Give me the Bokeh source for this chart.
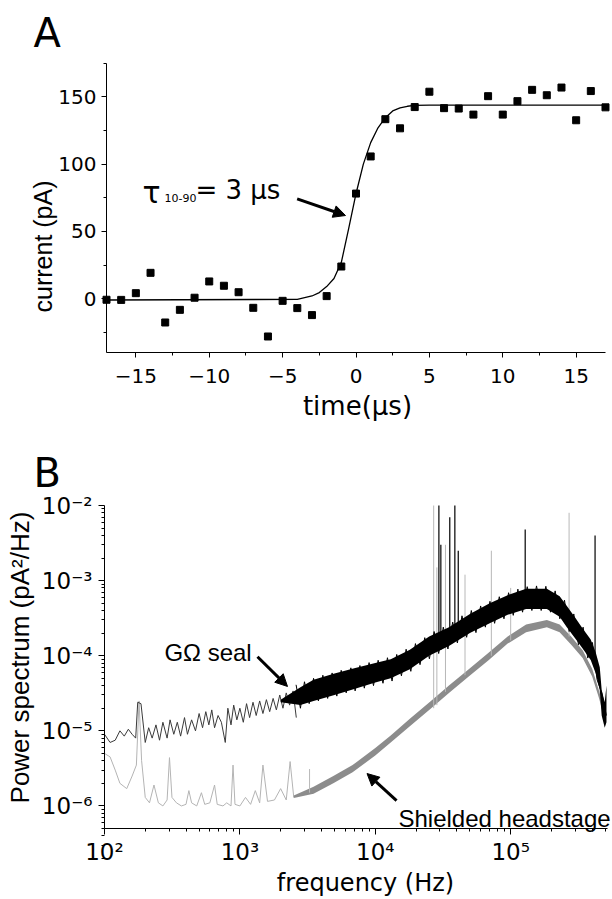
import math
from bokeh.plotting import figure
from bokeh.layouts import column
from bokeh.models import (Range1d, FixedTicker, CustomJSTickFormatter, Label,
                          Arrow, NormalHead)
from bokeh.embed import file_html
from bokeh.resources import INLINE

FONT = "Liberation Sans"
WIDE = "DejaVu Sans"

# ---------------- Panel A data ----------------
time_us = list(range(-17, 18))
current_pA = [-0.8, -0.9, 4.1, 19.2, -17.7, -8.3, 0.7, 12.8, 9.6, 4.8, -6.8, -28.1,
              -1.6, -7.0, -12.2, 1.9, 23.9, 78.1, 105.7, 133.4, 126.6, 142.4, 153.8,
              141.6, 141.3, 136.8, 150.5, 136.8, 146.8, 155.2, 151.2, 156.9, 132.6,
              154.3, 142.2]
fit_t = [-17, -4, -3, -2.5, -2, -1.5, -1, -0.5, 0, 0.5, 1, 1.5, 2, 2.5, 3, 3.5, 4, 5, 17]
fit_i = [-1, -0.5, 2, 4.5, 9, 15, 27, 52, 78, 100, 116, 127, 134.5, 139.5, 141.8, 143,
         143.6, 143.8, 143.8]
a_xticks = [-15, -10, -5, 0, 5, 10, 15]
a_xminor = [-12.5, -7.5, -2.5, 2.5, 7.5, 12.5]
a_yticks = [0, 50, 100, 150]
a_yminor = [-25, 25, 75, 125, 175]

# ---------------- Panel B data ----------------
seal_low_f = [100, 110, 120, 130, 140, 150, 160, 170, 176, 186, 200, 212, 225, 240, 255,
              270, 290, 305, 325, 345, 365, 390, 410, 440, 470, 500, 530, 560, 590, 620,
              650, 690, 730, 780, 815, 860, 900, 950, 1000, 1060, 1120, 1180, 1250, 1320,
              1400, 1480, 1570, 1660, 1760, 1860, 1970, 2080, 2200, 2330, 2470, 2610]
seal_low_p = [9e-6, 7e-6, 7.5e-6, 1.0e-5, 8.5e-6, 1.05e-5, 9e-6, 8e-6, 2.4e-5, 2.3e-5,
              7e-6, 1.1e-5, 8e-6, 1.2e-5, 7.5e-6, 1.3e-5, 8e-6, 1.4e-5, 9e-6, 1.3e-5,
              8.5e-6, 1.5e-5, 9e-6, 1.4e-5, 1.0e-5, 1.7e-5, 1.1e-5, 1.8e-5, 1.2e-5, 1.9e-5,
              1.1e-5, 1.6e-5, 1.3e-5, 7e-6, 2.0e-5, 1.2e-5, 2.2e-5, 1.4e-5, 2.0e-5, 1.3e-5,
              2.3e-5, 1.5e-5, 2.4e-5, 1.6e-5, 2.5e-5, 1.7e-5, 2.6e-5, 1.8e-5, 2.7e-5,
              1.9e-5, 3.0e-5, 2.0e-5, 3.2e-5, 2.2e-5, 3.4e-5, 1.5e-5]
seal_zig_f = [2600, 2800, 3000, 3250, 3500, 3800, 4100, 4450, 4800, 5200, 5600, 6100, 6600,
              7100, 7700, 8300, 9000, 9700, 10500, 11400, 12300, 13300, 14400, 15600,
              16900, 18300, 19800, 21400, 23200, 25100, 27200, 29400, 31800, 34400, 37300,
              40400, 43700, 47300, 51200, 55400, 60000, 65000, 70300, 76100, 82400, 89200,
              96500, 104500, 113000, 122400, 132500, 143400, 155200, 168000, 181900,
              196900, 213100, 230700, 249700, 270300, 292600, 316700, 342800, 371000,
              401600, 434700, 470500, 509300]
seal_zig_p = [4.1e-5, 2.0e-5, 4.5e-5, 2.3e-5, 5.0e-5, 2.5e-5, 5.5e-5, 2.7e-5, 5.9e-5,
              2.9e-5, 6.4e-5, 3.2e-5, 6.9e-5, 3.4e-5, 7.4e-5, 3.7e-5, 8.1e-5, 4.0e-5,
              8.7e-5, 4.3e-5, 9.4e-5, 4.6e-5, 1.04e-4, 5.4e-5, 1.22e-4, 6.2e-5, 1.45e-4,
              7.6e-5, 1.74e-4, 9.1e-5, 2.1e-4, 1.07e-4, 2.4e-4, 1.23e-4, 2.8e-4, 1.48e-4,
              3.4e-4, 1.76e-4, 4.0e-4, 2.03e-4, 4.6e-4, 2.4e-4, 5.3e-4, 2.7e-4, 6.1e-4,
              3.1e-4, 6.9e-4, 3.45e-4, 7.7e-4, 3.8e-4, 8.3e-4, 4.0e-4, 8.5e-4, 4.0e-4,
              8.4e-4, 3.8e-4, 7.3e-4, 3.1e-4, 5.5e-4, 2.1e-4, 3.6e-4, 1.4e-4, 2.4e-4,
              9.3e-5, 1.5e-4, 4.8e-5, 3.2e-5, 1.6e-5]
seal_band_f = [2000, 2800, 3500, 5000, 7000, 10000, 13000, 18000, 25000, 35000, 50000,
               70000, 95000, 130000, 185000, 230000, 260000, 300000, 340000, 390000,
               425000, 455000, 470000, 495000, 510000]
seal_band_lo = [2.4e-5, 2.2e-5, 2.5e-5, 3.0e-5, 3.6e-5, 4.4e-5, 5.0e-5, 6.6e-5, 1.0e-4,
                1.35e-4, 2.0e-4, 2.7e-4, 3.5e-4, 4.2e-4, 4.2e-4, 3.3e-4, 2.4e-4, 1.7e-4,
                1.25e-4, 8.8e-5, 5.8e-5, 3.5e-5, 1.6e-5, 1.1e-5, 1.3e-5]
seal_band_hi = [2.6e-5, 3.8e-5, 4.8e-5, 5.8e-5, 6.8e-5, 8.0e-5, 9.0e-5, 1.2e-4, 1.8e-4,
                2.4e-4, 3.6e-4, 5.0e-4, 6.4e-4, 7.8e-4, 7.8e-4, 6.2e-4, 4.6e-4, 3.2e-4,
                2.3e-4, 1.65e-4, 1.1e-4, 7e-5, 3.5e-5, 2.4e-5, 4.0e-5]
seal_spike_f = [29500, 30500, 35500, 38700, 41000, 128000, 420000]
seal_spike_base = [1.2e-4, 1.2e-4, 1.8e-4, 2.0e-4, 2.1e-4, 6e-4, 1e-4]
seal_spike_top = [1.0e-2, 3e-3, 7e-3, 1.0e-2, 2.5e-3, 4.8e-3, 4e-3]

shield_low_f = [100, 110, 120, 130, 146, 160, 172, 180, 188, 200, 215, 232, 250, 270, 290,
                302, 315, 340, 370, 400, 420, 440, 480, 520, 550, 600, 650, 680, 750, 800,
                860, 890, 920, 1000, 1100, 1200, 1300, 1400, 1480, 1600, 1800, 2000, 2200,
                2350, 2500]
shield_low_p = [5e-6, 4.5e-6, 3e-6, 2e-6, 1.7e-6, 2.5e-6, 3.5e-6, 2.5e-5, 4e-6, 1.3e-6,
                1.1e-6, 1.9e-6, 1.1e-6, 1.0e-6, 1.2e-6, 4.4e-6, 1.3e-6, 1.1e-6, 1.0e-6,
                1.05e-6, 1.6e-6, 1.1e-6, 1.0e-6, 1.5e-6, 1.05e-6, 1.1e-6, 1.9e-6, 1.05e-6,
                1.0e-6, 1.1e-6, 1.0e-6, 3.5e-6, 1.05e-6, 1.0e-6, 1.3e-6, 1.05e-6, 1.6e-6,
                1.1e-6, 3.5e-6, 1.15e-6, 1.2e-6, 1.7e-6, 1.2e-6, 3.9e-6, 1.3e-6]
shield_band_f = [2500, 3500, 4900, 6800, 10000, 13000, 18000, 25500, 35000, 49000, 69000,
                 95000, 130000, 185000, 230000, 280000, 340000, 400000, 450000, 500000]
shield_band_lo = [1.28e-6, 1.45e-6, 2.0e-6, 2.8e-6, 4.7e-6, 7.0e-6, 1.15e-5, 1.95e-5,
                  3.2e-5, 5.3e-5, 8.8e-5, 1.45e-4, 2.05e-4, 2.4e-4, 2.05e-4, 1.4e-4,
                  9.3e-5, 5.3e-5, 2.7e-5, 1.3e-5]
shield_band_hi = [1.38e-6, 1.8e-6, 2.5e-6, 3.5e-6, 5.9e-6, 8.7e-6, 1.45e-5, 2.45e-5,
                  4.0e-5, 6.6e-5, 1.1e-4, 1.8e-4, 2.6e-4, 3.0e-4, 2.6e-4, 1.8e-4, 1.18e-4,
                  6.7e-5, 3.4e-5, 1.7e-5]
shield_spike_f = [3270, 27000, 28500, 33000, 46000, 72000, 100000, 270000]
shield_spike_base = [1.5e-6, 2e-5, 2.2e-5, 3.3e-5, 5.5e-5, 1e-4, 1.6e-4, 1.8e-4]
shield_spike_top = [3.1e-6, 1.0e-2, 1.5e-3, 3e-3, 1.2e-3, 2.5e-3, 8e-4, 8e-3]

b_xticks = [1e2, 1e3, 1e4, 1e5]
b_xminor = [m * d for d in (1e2, 1e3, 1e4, 1e5) for m in range(2, 10)]
b_yticks = [1e-6, 1e-5, 1e-4, 1e-3, 1e-2]
b_yminor = [m * d for d in (1e-7, 1e-6, 1e-5, 1e-4, 1e-3) for m in range(2, 10)]


def style_axes(p, tick_fs):
    for ax in (p.xaxis[0], p.yaxis[0]):
        ax.axis_line_color = "black"
        ax.axis_line_width = 1
        ax.major_tick_line_color = "black"
        ax.minor_tick_line_color = "black"
        ax.major_tick_in = 0
        ax.major_tick_out = 5
        ax.minor_tick_in = 0
        ax.minor_tick_out = 3
        ax.major_label_text_font = WIDE
        ax.major_label_text_font_size = tick_fs
        ax.major_label_text_color = "black"
    p.xgrid.visible = False
    p.ygrid.visible = False
    p.outline_line_color = None


def lab(p, x, y, text, size, angle=0, align="left", baseline="alphabetic", font=WIDE):
    p.add_layout(Label(x=x, y=y, text=text, text_font=font, text_font_size=size,
                       text_color="black", angle=angle, text_align=align,
                       text_baseline=baseline))


# ---------------- Figure A ----------------
pa = figure(width=612, height=430, x_range=Range1d(-24.223, 17.477),
            y_range=Range1d(-97.97, 221.6), output_backend="svg", toolbar_location=None,
            min_border_left=0, min_border_right=0, min_border_top=0, min_border_bottom=0)
style_axes(pa, "20px")
pa.xaxis.ticker = FixedTicker(ticks=a_xticks, minor_ticks=a_xminor)
pa.yaxis.ticker = FixedTicker(ticks=a_yticks, minor_ticks=a_yminor)
pa.xaxis.fixed_location = -40
pa.yaxis.fixed_location = -17
pa.xaxis.bounds = (-17, 17)
pa.yaxis.bounds = (-40, 175)
pa.xaxis.major_label_standoff = 12
pa.yaxis.major_label_standoff = 5

pa.line(fit_t, fit_i, line_color="black", line_width=1.3)
pa.scatter(time_us, current_pA, marker="square", size=7, fill_color="black",
           line_color="black")

lab(pa, -21.97, 197.8, "A", "40px")
lab(pa, -21.36, 38.8, "current (pA)", "25px", angle=math.pi / 2, align="center",
    baseline="middle", font=FONT)
lab(pa, 0.1, -79.4, "time(\u03bcs)", "26px", align="center", baseline="middle")
lab(pa, -14.55, 79.1, "\u03c4", "30px")
lab(pa, -13.05, 75.0, "10-90", "11px")
lab(pa, -10.94, 80.4, "= 3 \u03bcs", "26px")
pa.add_layout(Arrow(end=NormalHead(size=12, fill_color="black", line_color="black"),
                    x_start=-4.01, y_start=74.2, x_end=-0.715, y_end=61.8,
                    line_width=3, line_color="black"))

# ---------------- Figure B ----------------
pb = figure(width=612, height=469, x_axis_type="log", y_axis_type="log",
            x_range=Range1d(17.06, 5.65e5), y_range=Range1d(5.68e-8, 0.0997),
            output_backend="svg", toolbar_location=None,
            min_border_left=0, min_border_right=0, min_border_top=0, min_border_bottom=0)
style_axes(pb, "23px")
pb.xaxis.ticker = FixedTicker(ticks=b_xticks, minor_ticks=b_xminor)
pb.yaxis.ticker = FixedTicker(ticks=b_yticks, minor_ticks=b_yminor)
pb.xaxis.fixed_location = 5e-7
pb.yaxis.fixed_location = 100
pb.xaxis.bounds = (100, 5.2e5)
pb.yaxis.bounds = (5e-7, 1e-2)
sup_fmt = CustomJSTickFormatter(code="""
const s = {"-":"\u207b","0":"\u2070","1":"\u00b9","2":"\u00b2","3":"\u00b3","4":"\u2074",
           "5":"\u2075","6":"\u2076","7":"\u2077","8":"\u2078","9":"\u2079"};
const e = Math.round(Math.log10(tick));
return "10" + String(e).split("").map(c => s[c]).join("");
""")
pb.xaxis.formatter = sup_fmt
pb.yaxis.formatter = sup_fmt
pb.xaxis.major_label_standoff = 4
pb.yaxis.major_label_standoff = 6
pb.xaxis.major_tick_out = 6
pb.yaxis.major_tick_out = 6

# shielded headstage (grey)
pb.line(shield_low_f, shield_low_p, line_color="#b4b4b4", line_width=1)
pb.varea(x=shield_band_f, y1=shield_band_lo, y2=shield_band_hi, fill_color="#8c8c8c")
pb.segment(x0=shield_spike_f, y0=shield_spike_base, x1=shield_spike_f,
           y1=shield_spike_top, line_color="#b8b8b8", line_width=1)
# G-ohm seal (black)
pb.line(seal_low_f, seal_low_p, line_color="#3a3a3a", line_width=1)
pb.varea(x=seal_band_f, y1=seal_band_lo, y2=seal_band_hi, fill_color="black")
pb.line(seal_zig_f, seal_zig_p, line_color="black", line_width=1)
pb.segment(x0=seal_spike_f, y0=seal_spike_base, x1=seal_spike_f, y1=seal_spike_top,
           line_color="black", line_width=1.2)

lab(pb, 29.9, 0.0267, "B", "40px")
lab(pb, 23.8, 9.46e-5, "Power spectrum (pA\u00b2/Hz)", "26px", angle=math.pi / 2,
    align="center", baseline="middle", font=FONT)
lab(pb, 8475, 9.5e-8, "frequency (Hz)", "24px", align="center", baseline="middle")
lab(pb, 277, 1.10e-4, "G\u03a9 seal", "24px", font=FONT)
lab(pb, 14830, 6.8e-7, "Shielded headstage", "24px", font=FONT)
pb.add_layout(Arrow(end=NormalHead(size=12, fill_color="black", line_color="black"),
                    x_start=1349, y_start=9.7e-5, x_end=2247, y_end=3.9e-5,
                    line_width=3, line_color="black"))
pb.add_layout(Arrow(end=NormalHead(size=12, fill_color="black", line_color="black"),
                    x_start=14360, y_start=1.18e-6, x_end=8690, y_end=2.7e-6,
                    line_width=3, line_color="black"))

layout = column(pa, pb, spacing=0)
open("out.html", "w").write(file_html(layout, INLINE))
